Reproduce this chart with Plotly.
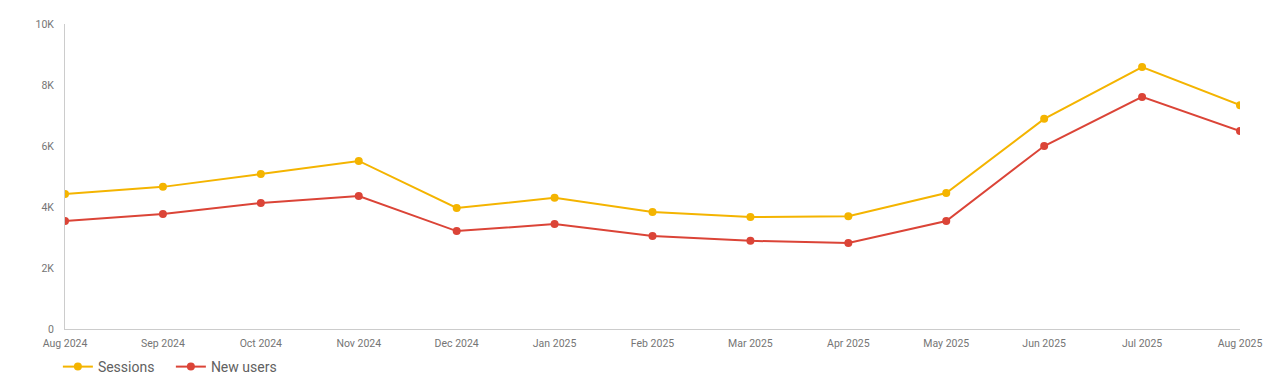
import plotly.graph_objects as go

months = ["Aug 2024", "Sep 2024", "Oct 2024", "Nov 2024", "Dec 2024", "Jan 2025",
          "Feb 2025", "Mar 2025", "Apr 2025", "May 2025", "Jun 2025", "Jul 2025", "Aug 2025"]
sessions = [4430, 4660, 5080, 5510, 3970, 4300, 3840, 3670, 3700, 4460, 6890, 8590, 7340]
new_users = [3540, 3770, 4130, 4360, 3210, 3440, 3050, 2890, 2820, 3540, 6000, 7610, 6490]
y_ticks = [0, 2000, 4000, 6000, 8000, 10000]
y_labels = ["0", "2K", "4K", "6K", "8K", "10K"]

fig = go.Figure()
fig.add_trace(go.Scatter(x=months, y=sessions, name="Sessions", mode="lines+markers",
                         line=dict(color="#F4B400", width=2), marker=dict(size=8, color="#F4B400")))
fig.add_trace(go.Scatter(x=months, y=new_users, name="New users", mode="lines+markers",
                         line=dict(color="#DB4437", width=2), marker=dict(size=8, color="#DB4437")))

fig.update_layout(
    width=1272, height=377,
    margin=dict(l=65, r=32, t=24, b=48),
    paper_bgcolor="white", plot_bgcolor="white",
    font=dict(family="Roboto", color="#757575", size=10),
    showlegend=True,
    legend=dict(orientation="h", xref="container", yref="container",
                x=0.0455, xanchor="left", y=0.0265, yanchor="middle",
                font=dict(size=14, color="#616161"), itemwidth=30, tracegroupgap=0,
                entrywidth=68),
    hovermode=False,
)
fig.update_xaxes(type="category", range=[0, len(months) - 1], showgrid=False,
                 showline=True, linecolor="#CCCCCC", linewidth=1, ticks="",
                 tickfont=dict(size=10.5, color="#757575"), zeroline=False,
                 automargin=False, ticklabelstandoff=4)
fig.update_yaxes(range=[0, 10000], tickvals=y_ticks, ticktext=y_labels, showgrid=False,
                 showline=True, linecolor="#CCCCCC", linewidth=1, ticks="", zeroline=False,
                 tickfont=dict(size=10.5, color="#757575"), automargin=False,
                 ticklabelstandoff=8)

fig.write_html("out.html", config={"displayModeBar": False},
               post_script="document.body.style.margin='0';document.body.style.overflow='hidden';")
